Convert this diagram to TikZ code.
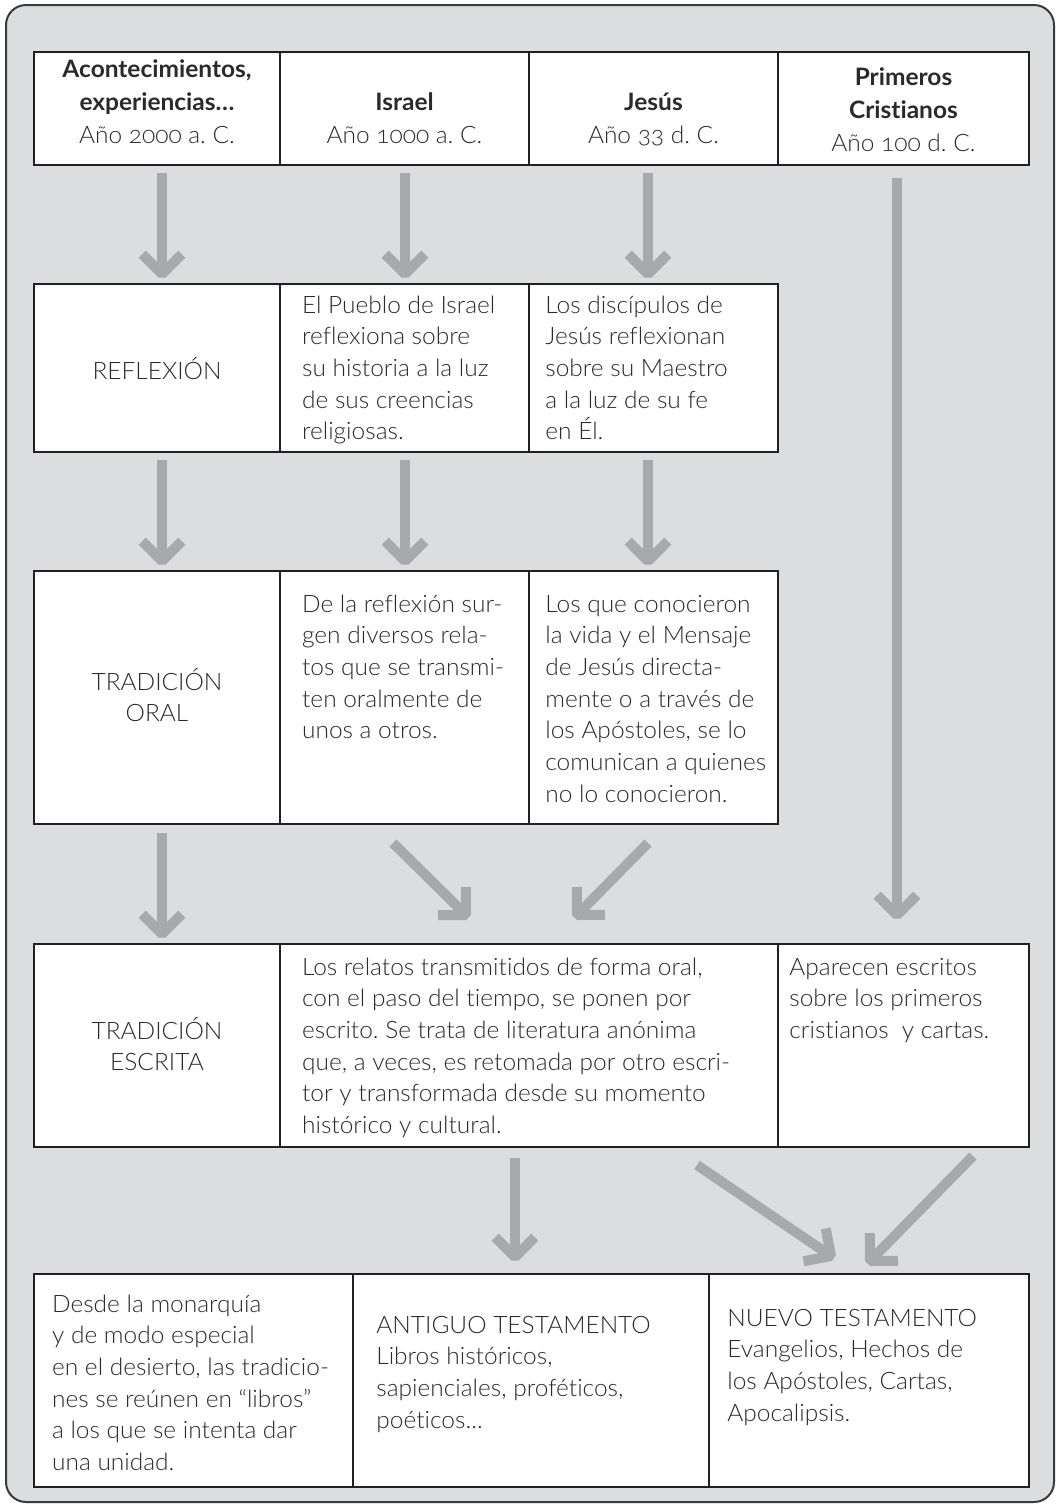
\documentclass[tikz,border=0pt]{standalone}
\usepackage{fontspec}
\setmainfont{Lato}[UprightFont=* Light, BoldFont=* Bold, Numbers=OldStyle, Ligatures=NoCommon, FakeStretch=1.02]
\usetikzlibrary{fit,calc}
\definecolor{bg}{HTML}{DCDDDF}
\definecolor{arr}{HTML}{A7A9AC}
\definecolor{ink}{HTML}{2A2A2A}
\definecolor{frame}{HTML}{3A3A3A}
\definecolor{cellline}{HTML}{231F20}
\newcommand\grarrow[2]{%
  \draw[garrow] (#1) -- (#2);
  \draw[garrow, line join=bevel] ($(#2)!14pt!45:(#1)$) -- (#2) -- ($(#2)!14pt!-45:(#1)$);
}
\frenchspacing
\begin{document}
\begin{tikzpicture}[x=0.5pt, y=-0.5pt,
  cell/.style={draw=cellline, line width=1pt, fill=white, inner sep=0pt, outer sep=0pt},
  garrow/.style={draw=arr, line width=5pt, line cap=butt},
  txt/.style={inner sep=0pt, anchor=base west, align=left, text=ink,
    font=\fontsize{12pt}{15.85pt}\selectfont},
  ctr/.style={inner sep=0pt, anchor=base, align=center, text=ink,
    font=\fontsize{12pt}{15.85pt}\selectfont},
  hdr/.style={inner sep=0pt, anchor=base, align=center, text=ink,
    font=\fontsize{12pt}{16.5pt}\selectfont}]
\useasboundingbox (0,0) rectangle (1057,1506);
\draw[fill=bg, draw=frame, line width=1pt, rounded corners=10pt] (6,5) rectangle (1054,1502);

% row 1
\node[cell, fit={(34,52)(280,165)}] (c11) {};
\node[cell, fit={(280,52)(529,165)}] (c12) {};
\node[cell, fit={(529,52)(778,165)}] (c13) {};
\node[cell, fit={(778,52)(1029,165)}] (c14) {};
% row 2
\node[cell, fit={(34,284)(280,452)}] (c21) {};
\node[cell, fit={(280,284)(529,452)}] (c22) {};
\node[cell, fit={(529,284)(778,452)}] (c23) {};
% row 3
\node[cell, fit={(34,571)(280,824)}] (c31) {};
\node[cell, fit={(280,571)(529,824)}] (c32) {};
\node[cell, fit={(529,571)(778,824)}] (c33) {};
% row 4
\node[cell, fit={(34,944)(280,1147)}] (c41) {};
\node[cell, fit={(280,944)(778,1147)}] (c42) {};
\node[cell, fit={(778,944)(1029,1147)}] (c43) {};
% row 5
\node[cell, fit={(34,1274)(353,1487)}] (c51) {};
\node[cell, fit={(353,1274)(709,1487)}] (c52) {};
\node[cell, fit={(709,1274)(1029,1487)}] (c53) {};

% arrow end points
\coordinate (a1s) at (162,173);  \coordinate (a1e) at (162,274);
\coordinate (a2s) at (405,173);  \coordinate (a2e) at (405,274);
\coordinate (a3s) at (648,173);  \coordinate (a3e) at (648,274);
\coordinate (a4s) at (897,178);  \coordinate (a4e) at (897,915);
\coordinate (b1s) at (162,460);  \coordinate (b1e) at (162,561);
\coordinate (b2s) at (405,460);  \coordinate (b2e) at (405,561);
\coordinate (b3s) at (648,460);  \coordinate (b3e) at (648,561);
\coordinate (e1s) at (162,833);  \coordinate (e1e) at (162,934);
\coordinate (e2s) at (393,843);  \coordinate (e2e) at (466,915);
\coordinate (e3s) at (648,843);  \coordinate (e3e) at (577,915);
\coordinate (d1s) at (515,1158); \coordinate (d1e) at (515,1257);
\coordinate (d2s) at (697,1165); \coordinate (d2e) at (831,1256);
\coordinate (d3s) at (973,1156); \coordinate (d3e) at (870,1261);

\grarrow{a1s}{a1e}
\grarrow{a2s}{a2e}
\grarrow{a3s}{a3e}
\grarrow{a4s}{a4e}
\grarrow{b1s}{b1e}
\grarrow{b2s}{b2e}
\grarrow{b3s}{b3e}
\grarrow{e1s}{e1e}
\grarrow{e2s}{e2e}
\grarrow{e3s}{e3e}
\grarrow{d1s}{d1e}
\grarrow{d2s}{d2e}
\grarrow{d3s}{d3e}

% header texts (anchor = baseline of last line)
\node[hdr] (t11) at (157,143) {\textbf{Acontecimientos,}\\\textbf{experiencias…}\\Año 2000 a. C.};
\node[hdr] (t12) at (404.5,143) {\textbf{Israel}\\Año 1000 a. C.};
\node[hdr] (t13) at (653.5,143) {\textbf{Jesús}\\Año 33 d. C.};
\node[hdr] (t14) at (903.5,151) {\textbf{Primeros}\\\textbf{Cristianos}\\Año 100 d. C.};

% row 2
\node[ctr] (t21) at (157,379) {REFLEXIÓN};
\node[txt] (t22) at (301.7,439.8) {El Pueblo de Israel\\reflexiona sobre\\su historia a la luz\\de sus creencias\\religiosas.};
\node[txt] (t23) at (545,439.8) {Los discípulos de\\Jesús reflexionan\\sobre su Maestro\\a la luz de su fe\\en Él.};

% row 3
\node[ctr] (t31) at (157,721.7) {TRADICIÓN\\ORAL};
\node[txt] (t32) at (301.7,738.8) {De la reflexión sur-\\gen diversos rela-\\tos que se transmi-\\ten oralmente de\\unos a otros.};
\node[txt] (t33) at (545,802.2) {Los que conocieron\\la vida y el Mensaje\\de Jesús directa-\\mente o a través de\\los Apóstoles, se lo\\comunican a quienes\\no lo conocieron.};

% row 4
\node[ctr] (t41) at (157,1070.7) {TRADICIÓN\\ESCRITA};
\node[txt] (t42) at (301.7,1133.5) {Los relatos transmitidos de forma oral,\\con el paso del tiempo, se ponen por\\escrito. Se trata de literatura anónima\\que, a veces, es retomada por otro escri-\\tor y transformada desde su momento\\histórico y cultural.};
\node[txt] (t43) at (789,1038.4) {Aparecen escritos\\sobre los primeros\\cristianos\ \ y cartas.};

% row 5
\node[txt] (t51) at (51.7,1470.5) {Desde la monarquía\\y de modo especial\\en el desierto, las tradicio-\\nes se reúnen en “libros”\\a los que se intenta dar\\una unidad.};
\node[txt] (t52) at (376,1428.1) {ANTIGUO TESTAMENTO\\Libros históricos,\\sapienciales, proféticos,\\poéticos...};
\node[txt] (t53) at (727,1421.1) {NUEVO TESTAMENTO\\Evangelios, Hechos de\\los Apóstoles, Cartas,\\Apocalipsis.};
\end{tikzpicture}
\end{document}
